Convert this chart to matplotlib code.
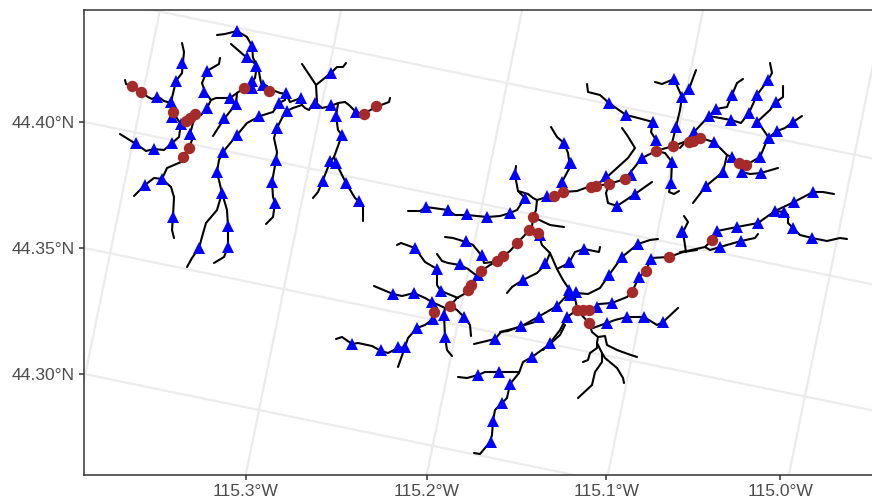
import numpy as np
from matplotlib import pyplot as plt

# stream traces in map units
west_streams = [
    [(125, 80), (126, 84), (132, 86), (141, 92), (148, 97), (152, 99), (156, 97), (160, 98), (164, 101), (171, 103), (173, 112), (180, 123), (180, 130), (179, 137), (172, 143), (164, 150), (154, 149), (146, 151), (136, 144), (120, 134)],
    [(182, 43), (184, 52), (183, 62), (182, 73), (176, 81), (171, 102)],
    [(217, 35), (225, 34), (237, 31), (247, 37), (252, 46), (253, 58), (257, 65), (259, 72), (261, 83), (267, 86), (269, 91), (275, 91), (280, 93), (286, 94), (290, 102), (301, 98), (302, 105), (305, 108), (309, 110), (312, 105), (315, 102), (322, 108), (331, 106), (338, 103), (345, 102), (349, 105), (356, 112), (363, 114), (376, 107), (389, 102), (390, 98)],
    [(231, 44), (246, 57), (257, 65)],
    [(220, 58), (219, 64), (207, 71), (202, 83), (205, 92), (211, 100), (216, 98), (230, 98), (237, 93), (244, 88), (252, 82), (255, 78), (257, 65)],
    [(211, 100), (207, 108), (201, 115), (195, 114), (186, 121), (181, 124)],
    [(213, 136), (224, 119), (236, 104), (237, 93)],
    [(237, 135), (247, 123), (260, 116), (273, 112), (279, 103), (285, 100), (286, 94)],
    [(237, 135), (223, 152), (219, 160), (217, 172), (222, 193), (227, 210), (228, 226), (228, 247), (224, 257), (214, 263)],
    [(222, 193), (217, 210), (206, 223), (202, 237), (199, 248), (192, 258), (187, 267)],
    [(134, 196), (145, 185), (154, 178), (162, 179), (171, 187), (174, 197), (173, 217), (172, 230), (174, 238)],
    [(162, 179), (167, 168), (181, 162), (183, 157), (189, 148), (192, 140), (190, 134), (193, 123)],
    [(287, 111), (282, 118), (277, 128), (274, 138), (277, 152), (276, 160), (272, 182), (273, 197), (275, 203), (273, 217), (266, 224)],
    [(287, 111), (293, 108), (302, 105)],
    [(302, 64), (316, 85), (317, 102)],
    [(316, 85), (331, 73), (337, 67), (343, 67), (346, 63)],
    [(338, 104), (336, 116), (338, 130), (342, 135), (334, 157), (330, 162), (323, 180), (318, 192), (313, 198)],
    [(334, 157), (336, 163), (346, 183), (355, 198), (363, 205), (363, 221)],
]

center_streams = [
    [(408, 211), (420, 211), (426, 207), (448, 210), (455, 215), (467, 215), (487, 217), (500, 216), (510, 213), (517, 210), (525, 198), (518, 191), (515, 175), (516, 166)],
    [(518, 191), (528, 194), (533, 198), (537, 200), (547, 197), (554, 196), (563, 192), (577, 191), (588, 187)],
    [(551, 127), (557, 137), (564, 143), (568, 153), (570, 167), (562, 182), (563, 192)],
    [(537, 200), (536, 210), (533, 217), (532, 227), (529, 230), (538, 233), (542, 245), (550, 253), (557, 269), (563, 280), (569, 289), (575, 298), (577, 308)],
    [(533, 217), (550, 225), (564, 227)],
    [(450, 306), (457, 298), (466, 293), (471, 285), (478, 278), (481, 271), (490, 265), (497, 261), (503, 256), (510, 251), (517, 243), (524, 236), (529, 230)],
    [(445, 237), (453, 238), (466, 242), (473, 245), (482, 256), (484, 263), (493, 262)],
    [(437, 254), (442, 261), (448, 263), (460, 265), (468, 269), (477, 276)],
    [(397, 245), (401, 243), (415, 248), (425, 262), (437, 269), (437, 285), (441, 291), (458, 298)],
    [(374, 286), (393, 294), (402, 296), (414, 293), (425, 298), (432, 302), (445, 308), (450, 306), (457, 310), (464, 317), (470, 325), (471, 336)],
    [(445, 308), (444, 315), (445, 337), (447, 350), (452, 356)],
    [(434, 312), (433, 319), (425, 325), (417, 328), (408, 338), (405, 347), (398, 367)],
    [(336, 339), (342, 337), (352, 344), (358, 343), (372, 346), (381, 351), (388, 353), (398, 348), (405, 347)],
]

south_streams = [
    [(507, 293), (512, 287), (523, 280), (537, 273), (542, 268), (546, 263), (550, 253)],
    [(500, 332), (520, 327), (538, 317), (557, 306), (569, 293)],
    [(600, 247), (599, 252), (584, 249), (575, 252), (569, 263), (557, 269)],
    [(576, 293), (588, 294), (600, 288), (609, 275), (622, 257), (638, 244), (650, 240), (658, 239)],
    [(543, 350), (550, 343), (560, 330), (567, 317), (577, 310)],
    [(592, 310), (599, 304), (612, 303), (627, 297), (632, 292), (639, 277), (646, 271), (651, 258), (669, 257), (683, 252), (697, 250)],
    [(589, 323), (593, 328), (607, 323), (615, 320), (627, 317), (644, 317), (657, 325), (663, 322), (678, 308)],
    [(474, 344), (495, 339), (501, 332), (508, 331), (521, 326), (535, 322), (538, 317)],
    [(565, 325), (560, 335), (550, 344), (532, 357), (523, 362), (519, 373), (510, 384), (507, 398), (502, 403), (495, 410), (493, 421), (492, 435), (490, 442), (480, 454), (474, 453)],
    [(458, 377), (467, 378), (478, 375), (485, 372), (499, 372), (519, 372)],
    [(577, 310), (589, 323), (592, 332), (598, 337), (597, 343), (602, 353), (605, 358), (617, 368), (623, 378), (624, 383)],
    [(598, 337), (605, 336), (607, 345), (617, 350), (628, 354), (637, 357)],
    [(597, 343), (597, 348), (590, 353), (588, 360), (583, 362)],
    [(602, 353), (602, 362), (595, 372), (592, 385), (578, 398)],
]

east_streams = [
    [(588, 187), (595, 186), (609, 184), (625, 179), (642, 158), (656, 151), (673, 146), (687, 141), (700, 138), (714, 142), (727, 155), (732, 157), (740, 163), (746, 165), (760, 157), (768, 138), (777, 131), (785, 128), (793, 122), (802, 116)],
    [(622, 128), (627, 135), (635, 148), (628, 158), (607, 177), (595, 186)],
    [(587, 84), (588, 92), (600, 95), (609, 103), (626, 115), (638, 118), (653, 122), (651, 132), (656, 140), (656, 151)],
    [(655, 82), (662, 84), (674, 79), (682, 97), (680, 110), (676, 127), (672, 143)],
    [(696, 70), (689, 89), (682, 97)],
    [(656, 151), (665, 153), (672, 162), (671, 183), (669, 192), (674, 194), (679, 191)],
    [(609, 184), (606, 193), (608, 203), (617, 206), (635, 194), (652, 182)],
    [(680, 148), (694, 132), (709, 116), (716, 109), (727, 107), (732, 95), (737, 83), (743, 79)],
    [(709, 116), (731, 120), (741, 123), (749, 113), (757, 95), (768, 80), (772, 73), (770, 63)],
    [(769, 138), (760, 125), (757, 122), (770, 110), (776, 102), (783, 97), (783, 86)],
    [(727, 155), (723, 172), (706, 186), (693, 203)],
    [(740, 163), (742, 172), (750, 174), (761, 173), (778, 168)],
    [(680, 252), (687, 251), (705, 247), (712, 240), (717, 231), (737, 227), (758, 223), (775, 211), (794, 202), (813, 192), (823, 192), (834, 194)],
    [(775, 211), (784, 212), (788, 215), (788, 223), (793, 228), (800, 235), (812, 238), (827, 241), (840, 238), (847, 239)],
    [(705, 247), (710, 250), (720, 247), (741, 241), (755, 238), (758, 234)],
    [(684, 216), (688, 222), (683, 232), (686, 252)],
]

# blue triangles
site_x = [182, 176, 157, 171, 172, 181, 190, 172, 136, 207, 204, 207, 224, 230, 236, 237, 237, 252, 247, 256, 252, 252, 263, 259,
          279, 286, 301, 287, 277, 276, 272, 275, 315, 331, 331, 336, 342, 330, 336, 323, 346, 359, 356,
          154, 190, 223, 217, 222, 228, 228, 199, 173, 162, 145,
          426, 448, 467, 487, 510, 525, 515, 564, 570, 562, 547, 540,
          415, 466, 482, 460, 437, 478, 441, 393, 414, 432, 433, 444, 464, 417, 445, 352, 381, 398, 405, 495, 521, 523,
          545, 569, 584, 569, 570, 576, 557, 539, 567, 550, 609, 622, 638, 639, 651, 612, 597, 607, 627, 644, 663, 682,
          532, 478, 499, 510, 502, 493, 491,
          609, 626, 653, 656, 674, 682, 689, 676, 672, 671, 694, 709, 716, 731, 732, 749, 757, 768, 776, 757,
          714, 732, 769, 777, 793, 760, 742, 761, 723, 706, 642, 631, 606, 635, 617, 571,
          717, 737, 758, 775, 784, 794, 813, 793, 812, 720, 741, 682]
site_y = [63, 81, 97, 102, 117, 124, 134, 143, 143, 71, 92, 108, 118, 98, 104, 135, 31, 46, 57, 66, 81, 88, 85, 116,
          103, 93, 98, 111, 128, 160, 182, 203, 103, 105, 73, 116, 135, 161, 163, 181, 183, 201, 112,
          149, 134, 152, 172, 193, 226, 247, 248, 217, 179, 185,
          207, 210, 214, 217, 213, 198, 174, 143, 163, 182, 196, 235,
          248, 241, 255, 264, 269, 275, 291, 294, 293, 302, 319, 315, 317, 328, 337, 344, 350, 347, 347, 339, 326, 280,
          263, 262, 249, 290, 295, 292, 306, 317, 317, 343, 275, 257, 244, 277, 259, 303, 307, 323, 317, 317, 322, 232,
          357, 375, 372, 384, 403, 421, 442,
          103, 115, 122, 140, 79, 97, 89, 127, 162, 183, 132, 116, 109, 120, 95, 113, 95, 80, 102, 122,
          142, 157, 138, 131, 122, 157, 172, 173, 172, 186, 158, 175, 176, 194, 206, 163,
          231, 227, 223, 211, 212, 202, 192, 228, 238, 247, 241, 231]

# brown circles
lake_x = [132, 141, 173, 186, 190, 195, 244, 269, 364, 376, 189, 183,
          533, 529, 538, 517, 554, 563, 434, 450, 468, 471, 481, 497, 503,
          577, 583, 589, 589, 632, 646, 669, 712,
          591, 596, 609, 625, 656, 673, 689, 693, 700, 739, 746]
lake_y = [86, 92, 112, 121, 118, 114, 88, 91, 114, 106, 148, 157,
          217, 230, 233, 243, 196, 192, 312, 306, 290, 285, 271, 261, 256,
          310, 310, 310, 323, 292, 271, 257, 240,
          187, 186, 184, 179, 151, 146, 142, 141, 138, 163, 165]

lon_breaks = [-115.4, -115.3, -115.2, -115.1, -115.0]
lat_breaks = [44.25, 44.30, 44.35, 44.40, 44.45]
lon_labels = ['115.3°W', '115.2°W', '115.1°W', '115.0°W']
lat_labels = ['44.30°N', '44.35°N', '44.40°N']


def project(lon, lat):
    """Lon/lat to the map units of the traces."""
    x = 259 + 1737 * (lon + 115.3) + 496 * (lat - 44.30)
    y = 410 + 358 * (lon + 115.3) - 2418 * (lat - 44.30)
    return x, y


x_min, x_max, y_bottom, y_top = 84, 874, 475, 10

fig = plt.figure(figsize=(8.72, 4.98), dpi=100)
ax = fig.add_axes([84 / 872, (498 - 475) / 498, 790 / 872, 465 / 498])

# graticule
for lon in lon_breaks:
    gx, gy = project(np.array([lon, lon]), np.array([44.1, 44.6]))
    ax.plot(gx, gy, c='#EBEBEB', lw=1.6, zorder=1)
for lat in lat_breaks:
    gx, gy = project(np.array([-115.6, -114.7]), np.array([lat, lat]))
    ax.plot(gx, gy, c='#EBEBEB', lw=1.6, zorder=1)

# streams
for stream in west_streams + center_streams + south_streams + east_streams:
    xs, ys = zip(*stream)
    ax.plot(xs, ys, c='black', lw=1.5, zorder=2, solid_capstyle='round', solid_joinstyle='round')

ax.plot(site_x, site_y, '^', c='blue', ms=8, mew=0, zorder=3)
ax.plot(lake_x, lake_y, 'o', c='brown', ms=8.2, mew=0, zorder=4)

ax.set_xlim(x_min, x_max)
ax.set_ylim(y_bottom, y_top)

# ticks sit where graticule lines meet the frame
x_ticks = []
for lon in lon_breaks[1:]:
    gx, gy = project(np.array([lon, lon]), np.array([44.2, 44.3]))
    x_ticks.append(np.interp(y_bottom, gy[::-1], gx[::-1]))
y_ticks = []
for lat in lat_breaks[1:4]:
    gx, gy = project(np.array([-115.5, -115.3]), np.array([lat, lat]))
    y_ticks.append(np.interp(x_min, gx, gy))
ax.set_xticks(x_ticks)
ax.set_xticklabels(lon_labels)
ax.set_yticks(y_ticks)
ax.set_yticklabels(lat_labels)
ax.tick_params(axis='both', length=3.5, width=1.1, color='#333333', labelcolor='#4D4D4D',
               labelsize=12.6, pad=3)
for label in ax.get_xticklabels() + ax.get_yticklabels():
    label.set_family('Liberation Sans')
for spine in ax.spines.values():
    spine.set_color('#333333')
    spine.set_linewidth(1.1)

fig.savefig('out.png', dpi=100)
